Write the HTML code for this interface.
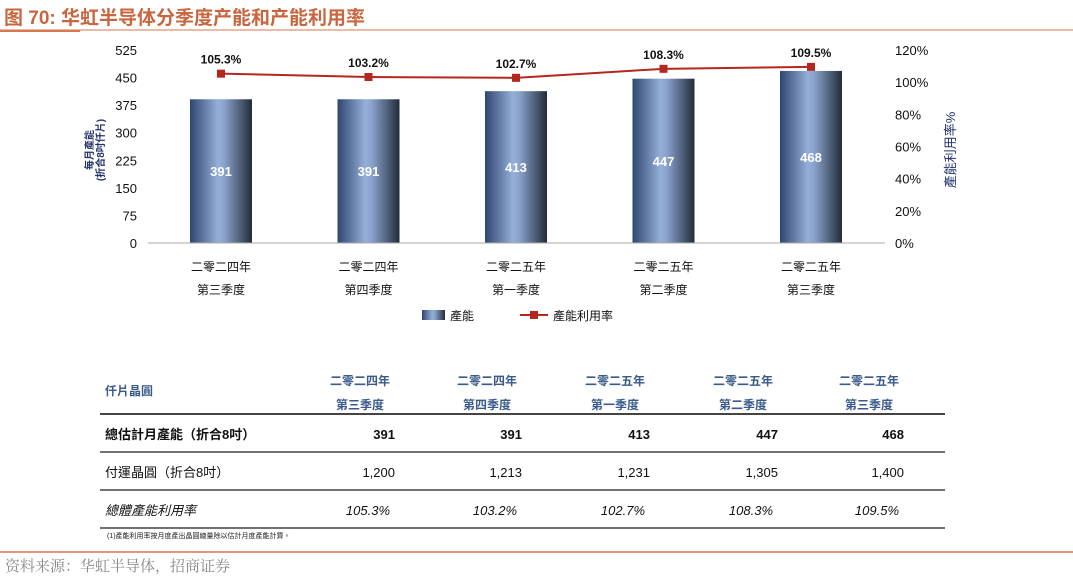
<!DOCTYPE html>
<html><head><meta charset="utf-8"><style>
body{margin:0;width:1073px;height:581px;background:#fff;overflow:hidden;font-family:"Liberation Sans","Noto Sans CJK TC",sans-serif}
svg{position:absolute;left:0;top:0}
</style></head><body>
<svg width="1073" height="581">
<defs>
<linearGradient id="bg" x1="0" x2="1" y1="0" y2="0">
<stop offset="0" stop-color="#2f4670"/><stop offset="0.45" stop-color="#94afd8"/><stop offset="0.55" stop-color="#8aa3cc"/><stop offset="1" stop-color="#232c3a"/>
</linearGradient>
</defs>
<text x="4" y="24" font-size="19" font-weight="bold" fill="#c8673f" font-family="Liberation Sans,Noto Sans CJK SC,sans-serif">图 70:  华虹半导体分季度产能和产能利用率</text>
<line x1="0" y1="30" x2="1073" y2="30" stroke="#d9774f" stroke-width="1"/>
<line x1="0" y1="31" x2="80" y2="31" stroke="#d9774f" stroke-width="2"/>
<g id="plot"></g>
<text transform="translate(93,150) rotate(-90)" text-anchor="middle" font-size="10" font-weight="bold" fill="#22336b">每月產能</text>
<text transform="translate(104,150) rotate(-90)" text-anchor="middle" font-size="10" font-weight="bold" fill="#22336b">(折合8吋仟片)</text>
<text transform="translate(955,150) rotate(-90)" text-anchor="middle" font-size="13" fill="#22336b">產能利用率%</text>
<g>
<rect x="422" y="310" width="23" height="10" fill="url(#bg)"/>
<text x="450" y="320" font-size="12" fill="#111">產能</text>
<line x1="520" y1="315" x2="548" y2="315" stroke="#b5261e" stroke-width="2"/>
<rect x="530" y="311" width="8" height="8" fill="#b5261e"/>
<text x="553" y="320" font-size="12" fill="#111">產能利用率</text>
</g>
<g id="table"></g>
<text x="107" y="538" font-size="7" fill="#222">(1)產能利用率按月度產出晶圓總量除以估計月度產能計算。</text>
<line x1="0" y1="552" x2="1073" y2="552" stroke="#d9774f" stroke-width="1.5"/>
<text x="5" y="571" font-size="15" fill="#888" font-family="Noto Serif CJK SC,serif">资料来源：华虹半导体，招商证券</text>
</svg>
<script>
const cats1=["二零二四年","二零二四年","二零二五年","二零二五年","二零二五年"];
const cats2=["第三季度","第四季度","第一季度","第二季度","第三季度"];
const capacity=[391,391,413,447,468];
const util=[105.3,103.2,102.7,108.3,109.5];
const shipped=["1,200","1,213","1,231","1,305","1,400"];
const leftTicks=[0,75,150,225,300,375,450,525];
const rightTicks=[0,20,40,60,80,100,120];
const NS="http://www.w3.org/2000/svg";
const y0=243,y1=50;
const yL=v=>y0-(v/525)*(y0-y1);
const yR=v=>y0-(v/120)*(y0-y1);
const xC=i=>221+i*147.5;
const g=document.getElementById('plot');
function mk(t,a,txt,p){const e=document.createElementNS(NS,t);for(const k in a)e.setAttribute(k,a[k]);if(txt!=null)e.textContent=txt;(p||g).appendChild(e);return e;}
leftTicks.forEach(v=>{const e=mk('text',{x:137,y:yL(v)+5,'text-anchor':'end','font-size':13,fill:'#111'},v);

});
rightTicks.forEach(v=>{const e=mk('text',{x:895,y:yR(v)+5,'font-size':13,fill:'#111'},v+'%');

});
capacity.forEach((v,i)=>{const b=mk('rect',{x:xC(i)-31,y:yL(v),width:62,height:y0-yL(v),fill:'url(#bg)'});


const t=mk('text',{x:xC(i),y:(yL(v)+y0)/2+5,'text-anchor':'middle','font-size':13,'font-weight':'bold',fill:'#fff'},v);


const c1=mk('text',{x:xC(i),y:271,'text-anchor':'middle','font-size':12,fill:'#111'},cats1[i]);


mk('text',{x:xC(i),y:294,'text-anchor':'middle','font-size':12,fill:'#111'},cats2[i]);});
const ax=mk('line',{x1:148,y1:y0,x2:885,y2:y0,stroke:'#aaa','stroke-width':1});


const ln=mk('polyline',{points:util.map((v,i)=>xC(i)+','+yR(v)).join(' '),fill:'none',stroke:'#b5261e','stroke-width':2});


util.forEach((v,i)=>{const m=mk('rect',{x:xC(i)-4,y:yR(v)-4,width:8,height:8,fill:'#b5261e'});


const t=mk('text',{x:xC(i),y:yR(v)-10,'text-anchor':'middle','font-size':12,'font-weight':'bold',fill:'#111'},v.toFixed(1)+'%');

});
// table
const tb=document.getElementById('table');
const cx=[360,487,615,743,869];
mk('text',{x:105,y:395,'font-size':12,'font-weight':'bold',fill:'#3a5a8c'},'仟片晶圓',tb);
cx.forEach((x,i)=>{mk('text',{x:x,y:385,'text-anchor':'middle','font-size':12,'font-weight':'bold',fill:'#3a5a8c'},cats1[i],tb);
mk('text',{x:x,y:409,'text-anchor':'middle','font-size':12,'font-weight':'bold',fill:'#3a5a8c'},cats2[i],tb);
mk('text',{x:x+35,y:439,'text-anchor':'end','font-size':13,'font-weight':'bold',fill:'#111'},capacity[i],tb);
mk('text',{x:x+35,y:477,'text-anchor':'end','font-size':13,fill:'#111'},shipped[i],tb);
mk('text',{x:x+30,y:515,'text-anchor':'end','font-size':13,'font-style':'italic',fill:'#111'},util[i].toFixed(1)+'%',tb);});
mk('text',{x:105,y:439,'font-size':13,'font-weight':'bold',fill:'#111'},'總估計月產能（折合8吋）',tb);
mk('text',{x:105,y:477,'font-size':13,fill:'#111'},'付運晶圓（折合8吋）',tb);
mk('text',{x:105,y:515,'font-size':13,'font-style':'italic',fill:'#111'},'總體產能利用率',tb);
[[414,2],[452,1.5],[490,1.5],[528,1.5]].forEach(([y,w])=>mk('line',{x1:100,y1:y,x2:945,y2:y,stroke:'#444','stroke-width':w},null,tb));
</script>
</body></html>
